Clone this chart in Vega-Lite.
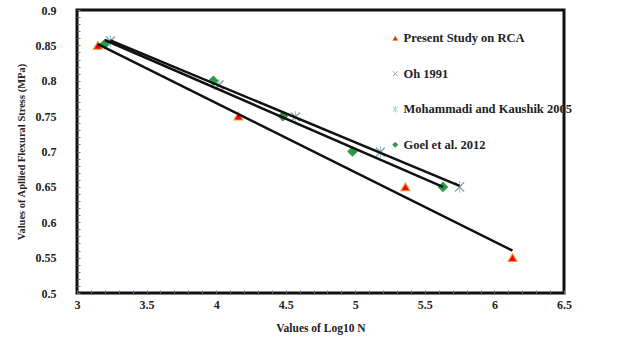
{
  "$schema": "https://vega.github.io/schema/vega-lite/v6.json",
  "width": 487,
  "height": 283,
  "autosize": {"type": "none"},
  "padding": {"left": 77, "top": 10, "right": 71, "bottom": 51},
  "background": "white",
  "config": {"view": {"stroke": "#111", "strokeWidth": 3}, "font": "Liberation Serif"},
  "data": {
    "values": [
      {"series": "Present Study on RCA", "x": 3.15, "y": 0.85},
      {"series": "Present Study on RCA", "x": 4.16, "y": 0.75},
      {"series": "Present Study on RCA", "x": 5.36, "y": 0.65},
      {"series": "Present Study on RCA", "x": 6.13, "y": 0.55},
      {"series": "Mohammadi and Kaushik 2005", "x": 3.24, "y": 0.856},
      {"series": "Mohammadi and Kaushik 2005", "x": 4.02, "y": 0.794},
      {"series": "Mohammadi and Kaushik 2005", "x": 4.57, "y": 0.749},
      {"series": "Mohammadi and Kaushik 2005", "x": 5.18, "y": 0.699},
      {"series": "Mohammadi and Kaushik 2005", "x": 5.75, "y": 0.65},
      {"series": "Oh 1991", "x": 3.24, "y": 0.856},
      {"series": "Oh 1991", "x": 4.02, "y": 0.794},
      {"series": "Oh 1991", "x": 4.57, "y": 0.749},
      {"series": "Oh 1991", "x": 5.18, "y": 0.699},
      {"series": "Oh 1991", "x": 5.75, "y": 0.65},
      {"series": "Goel et al. 2012", "x": 3.2, "y": 0.852},
      {"series": "Goel et al. 2012", "x": 3.98, "y": 0.8},
      {"series": "Goel et al. 2012", "x": 4.48, "y": 0.75},
      {"series": "Goel et al. 2012", "x": 4.98, "y": 0.7},
      {"series": "Goel et al. 2012", "x": 5.63, "y": 0.65}
    ]
  },
  "encoding": {
    "x": {
      "field": "x", "type": "quantitative",
      "scale": {"domain": [3, 6.5], "nice": false, "zero": false},
      "axis": {
        "title": "Values of Log10 N",
        "values": [3, 3.1, 3.2, 3.3, 3.4, 3.5, 3.6, 3.7, 3.8, 3.9, 4, 4.1, 4.2, 4.3, 4.4, 4.5, 4.6, 4.7, 4.8, 4.9, 5, 5.1, 5.2, 5.3, 5.4, 5.5, 5.6, 5.7, 5.8, 5.9, 6, 6.1, 6.2, 6.3, 6.4, 6.5],
        "labelExpr": "abs(datum.value*2 - round(datum.value*2)) < 0.001 ? format(datum.value, '~g') : ''",
        "domain": false, "grid": false,
        "tickSize": -3, "tickColor": "#777", "tickWidth": 1,
        "labelPadding": 9, "labelOverlap": false, "labelFlush": false,
        "labelFont": "Liberation Serif", "labelFontWeight": "bold", "labelFontSize": 12, "labelColor": "#222",
        "titleFont": "Liberation Serif", "titleFontWeight": "bold", "titleFontSize": 11.5, "titleColor": "#222",
        "titlePadding": 12
      }
    },
    "y": {
      "field": "y", "type": "quantitative",
      "scale": {"domain": [0.5, 0.9], "nice": false, "zero": false},
      "axis": {
        "title": "Values of Apllied Flexural Stress (MPa)",
        "values": [0.5, 0.51, 0.52, 0.53, 0.54, 0.55, 0.56, 0.57, 0.58, 0.59, 0.6, 0.61, 0.62, 0.63, 0.64, 0.65, 0.66, 0.67, 0.68, 0.69, 0.7, 0.71, 0.72, 0.73, 0.74, 0.75, 0.76, 0.77, 0.78, 0.79, 0.8, 0.81, 0.82, 0.83, 0.84, 0.85, 0.86, 0.87, 0.88, 0.89, 0.9],
        "labelExpr": "abs(datum.value*20 - round(datum.value*20)) < 0.001 ? format(datum.value, '~g') : ''",
        "domain": false, "grid": false,
        "tickSize": -3, "tickColor": "#777", "tickWidth": 1,
        "labelPadding": 24, "labelOverlap": false, "labelFlush": false,
        "labelFont": "Liberation Serif", "labelFontWeight": "bold", "labelFontSize": 12, "labelColor": "#222",
        "titleFont": "Liberation Serif", "titleFontWeight": "bold", "titleFontSize": 10.5, "titleColor": "#222",
        "titlePadding": 9
      }
    }
  },
  "layer": [
    {
      "mark": {"type": "point", "filled": true, "opacity": 1, "strokeWidth": 1.2, "size": 80},
      "encoding": {
        "shape": {
          "field": "series", "type": "nominal", "title": null,
          "scale": {
            "domain": ["Present Study on RCA", "Oh 1991", "Mohammadi and Kaushik 2005", "Goel et al. 2012"],
            "range": ["triangle-up", "M-1,-1L1,1M-1,1L1,-1", "M-1,-1L1,1M-1,1L1,-1M0,-1.3L0,1.3", "diamond"]
          },
          "legend": {
            "orient": "none", "legendX": 312, "legendY": 22, "padding": 0,
            "symbolSize": 25, "symbolStrokeWidth": 1, "rowPadding": 22.5, "labelOffset": 2,
            "labelLimit": 400,
            "labelFont": "Liberation Serif", "labelFontWeight": "bold", "labelFontSize": 12.5, "labelColor": "#222"
          }
        },
        "fill": {
          "field": "series", "type": "nominal", "title": null,
          "scale": {
            "domain": ["Present Study on RCA", "Oh 1991", "Mohammadi and Kaushik 2005", "Goel et al. 2012"],
            "range": ["#ff0000", "transparent", "transparent", "#2e9a48"]
          }
        },
        "stroke": {
          "field": "series", "type": "nominal", "title": null,
          "scale": {
            "domain": ["Present Study on RCA", "Oh 1991", "Mohammadi and Kaushik 2005", "Goel et al. 2012"],
            "range": ["#e8a040", "#9a9aae", "#8fd3d3", "#2e9a48"]
          }
        }
      }
    },
    {
      "transform": [
        {"filter": "datum.series != 'Mohammadi and Kaushik 2005'"},
        {"regression": "y", "on": "x", "groupby": ["series"]}
      ],
      "mark": {"type": "line", "color": "#111", "strokeWidth": 2.5},
      "encoding": {"detail": {"field": "series", "type": "nominal"}}
    }
  ]
}
